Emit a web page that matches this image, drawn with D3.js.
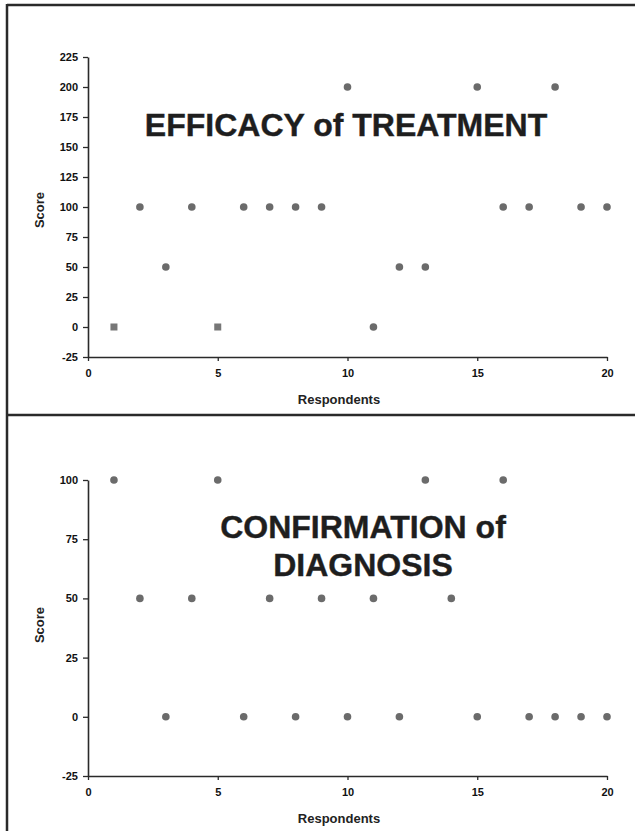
<!DOCTYPE html>
<html>
<head>
<meta charset="utf-8">
<script src="https://cdn.jsdelivr.net/npm/d3@7"></script>
<style>
  html, body { margin: 0; padding: 0; background: #fff; }
  svg { display: block; font-family: "Liberation Sans", Arial, sans-serif; }
</style>
</head>
<body>
<svg id="chart" width="635" height="831"></svg>
<script>
// ---- data ----
const respondents = [1,2,3,4,5,6,7,8,9,10,11,12,13,14,15,16,17,18,19,20];
// Efficacy of treatment (respondent 14 not shown)
const efficacyX = [1,2,3,4,5,6,7,8,9,10,11,12,13,15,16,17,18,19,20];
const efficacyY = [0,100,50,100,0,100,100,100,100,200,0,50,50,200,100,100,200,100,100];
const efficacyShape = ["square","circle","circle","circle","square","circle","circle","circle","circle","circle","circle","circle","circle","circle","circle","circle","circle","circle","circle"];
const diagnosisY = [100,50,0,50,100,0,50,0,50,0,50,0,100,50,0,100,0,0,0,0];
const xTicks = [0,5,10,15,20];
const efficacyTicks = [-25,0,25,50,75,100,125,150,175,200,225];
const diagnosisTicks = [-25,0,25,50,75,100];

const svg = d3.select("#chart");
const ink = "#2a2a2a";
const markColor = "#6b6b6b";

// frame
svg.append("line").attr("x1",7).attr("x2",635).attr("y1",5).attr("y2",5).attr("stroke",ink).attr("stroke-width",2.5);
svg.append("line").attr("x1",7).attr("x2",7).attr("y1",4).attr("y2",831).attr("stroke",ink).attr("stroke-width",2.5);
svg.append("line").attr("x1",7).attr("x2",635).attr("y1",415).attr("y2",415).attr("stroke",ink).attr("stroke-width",2.5);

function panel(opts) {
  const x = d3.scaleLinear().domain([0,20]).range([88,607]);
  const y = d3.scaleLinear().domain(opts.yDomain).range(opts.yRange);
  const g = svg.append("g");

  const ya = g.append("g").attr("transform", `translate(${x(0)},0)`)
    .call(d3.axisLeft(y).tickValues(opts.yTicks).tickSize(5).tickSizeOuter(0).tickPadding(5)
      .tickFormat(d => String(d)));
  const xa = g.append("g").attr("transform", `translate(0,${y(opts.yDomain[0])})`)
    .call(d3.axisBottom(x).tickValues(xTicks).tickSize(4).tickSizeOuter(0).tickPadding(8)
      .tickFormat(d => String(d)));
  [ya, xa].forEach(a => {
    a.select(".domain").attr("stroke", ink).attr("stroke-width", 1.6);
    a.selectAll(".tick line").attr("stroke", ink).attr("stroke-width", 1.3);
    a.selectAll(".tick text").attr("fill", "#111").attr("font-size", 11).attr("font-weight", "bold")
      .attr("font-family", "Liberation Sans, Arial, sans-serif");
  });

  g.append("text").attr("x", 339).attr("y", y(opts.yDomain[0]) + 47)
    .attr("text-anchor","middle").attr("font-size",13).attr("font-weight","bold").attr("fill","#222")
    .text("Respondents");
  g.append("text").attr("transform", `translate(44,${opts.scoreY}) rotate(-90)`)
    .attr("text-anchor","middle").attr("font-size",13).attr("font-weight","bold").attr("fill","#222")
    .text("Score");

  opts.titleLines.forEach((t, i) => {
    g.append("text").attr("x", opts.titleX).attr("y", opts.titleY + i * 38)
      .attr("text-anchor","middle").attr("font-size",32).attr("font-weight","bold").attr("fill","#1e1e1e")
      .attr("stroke","#1e1e1e").attr("stroke-width",0.4)
      .text(t);
  });

  const pts = opts.xs.map((v, i) => ({x: v, y: opts.ys[i], s: opts.shapes ? opts.shapes[i] : "circle"}));
  g.selectAll("circle.pt").data(pts.filter(d => d.s === "circle")).join("circle")
    .attr("class","pt").attr("cx", d => x(d.x)).attr("cy", d => y(d.y)).attr("r", 3.8).attr("fill", markColor);
  g.selectAll("rect.pt").data(pts.filter(d => d.s === "square")).join("rect")
    .attr("class","pt").attr("x", d => x(d.x) - 3.5).attr("y", d => y(d.y) - 3.5)
    .attr("width", 7).attr("height", 7).attr("fill", "#777");
}

panel({
  yDomain: [-25, 225], yRange: [357, 57], yTicks: efficacyTicks,
  xs: efficacyX, ys: efficacyY, shapes: efficacyShape,
  titleLines: ["EFFICACY of TREATMENT"], titleX: 346, titleY: 136, scoreY: 210
});
panel({
  yDomain: [-25, 100], yRange: [776, 480], yTicks: diagnosisTicks,
  xs: respondents, ys: diagnosisY,
  titleLines: ["CONFIRMATION of", "DIAGNOSIS"], titleX: 363, titleY: 538, scoreY: 625
});
</script>
</body>
</html>
